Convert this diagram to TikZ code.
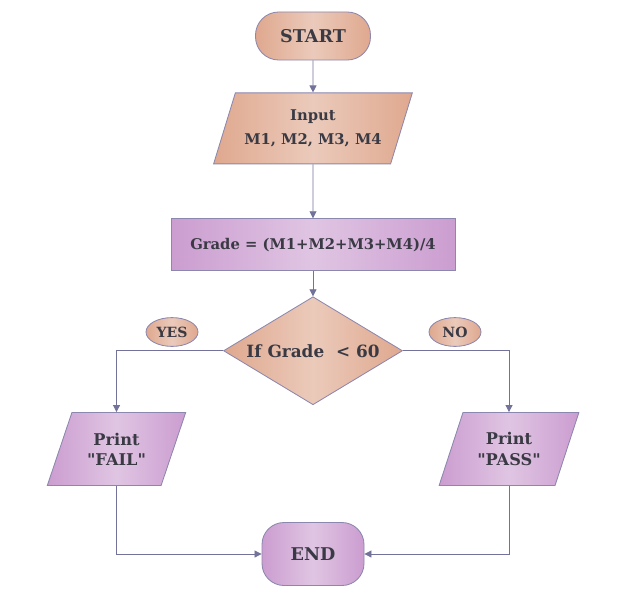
\documentclass[tikz,border=0pt]{standalone}
\usepackage{fontspec}
\setmainfont{DejaVu Serif}[Ligatures=TeXOff]
\usetikzlibrary{shapes,arrows.meta,positioning}
\definecolor{fcInk}{HTML}{3A3A44}
\definecolor{fcEdge}{HTML}{8C87AE}
\definecolor{fcLine}{HTML}{72729A}
\definecolor{fcTan}{HTML}{DFA88E}
\definecolor{fcTanLt}{HTML}{EBCABB}
\definecolor{fcLilac}{HTML}{CB9DD0}
\definecolor{fcLilacLt}{HTML}{E0C5E3}
\newcommand{\fsz}[1]{\fontsize{#1}{1.25\dimexpr#1pt\relax}\selectfont}
\tikzset{
  box/.style={draw=fcEdge, line width=0.6pt, text=fcInk, font=\bfseries\fsz{10.5}, align=center, inner sep=2pt},
  tanbox/.style={box, left color=fcTan, right color=fcTan, middle color=fcTanLt},
  lilbox/.style={box, left color=fcLilac, right color=fcLilac, middle color=fcLilacLt},
  term/.style={rounded corners=0.58cm, font=\bfseries\fsz{12.5}},
  iobox/.style={trapezium, trapezium left angle=65, trapezium right angle=115, trapezium stretches=true},
  tag/.style={ellipse, tanbox, minimum width=1.3cm, minimum height=0.72cm, inner sep=0pt, font=\bfseries\fsz{10}},
  arr/.style={-{Triangle[length=5pt,width=5pt]}, line width=0.6pt, draw=fcLine},
}
\begin{document}
\begin{tikzpicture}
  \useasboundingbox (0,0) rectangle (15.65,-14.75);
  \node[tanbox, term, minimum width=2.875cm, minimum height=1.2cm] (start) at (7.825,-0.9) {START};
  \node[tanbox, iobox, minimum width=4.975cm, minimum height=1.775cm, below=0.8cm of start] (input) {Input\\[4pt]M1, M2, M3, M4};
  \node[lilbox, minimum width=7.1cm, minimum height=1.3cm, below=1.35cm of input] (grade) {Grade = (M1+M2+M3+M4)/4};
  \node[tanbox, diamond, aspect=1.66, inner sep=0pt, minimum width=4.475cm, minimum height=2.7cm, font=\bfseries\fsz{12}, below=0.63cm of grade] (cond) {If Grade \ < 60};
  \node[tag] (yes) at (4.3,-8.3) {YES};
  \node[tag] (no) at (11.375,-8.3) {NO};
  \node[lilbox, iobox, minimum width=3.475cm, minimum height=1.825cm, font=\bfseries\fsz{11.5}] (fail) at (2.9125,-11.225) {Print\\"FAIL"};
  \node[lilbox, iobox, minimum width=3.5cm, minimum height=1.825cm, font=\bfseries\fsz{11.5}] (pass) at (12.725,-11.225) {Print\\"PASS"};
  \node[lilbox, term, minimum width=2.55cm, minimum height=1.575cm, rounded corners=0.55cm] (end) at (7.825,-13.85) {END};

  \draw[arr] (start) -- (input);
  \draw[arr] (input) -- (grade);
  \draw[arr] (grade) -- (cond);
  \draw[arr] (cond.west) -| (fail.north);
  \draw[arr] (cond.east) -| (pass.north);
  \draw[arr] (fail.south) |- (end.west);
  \draw[arr] (pass.south) |- (end.east);
\end{tikzpicture}
\end{document}
